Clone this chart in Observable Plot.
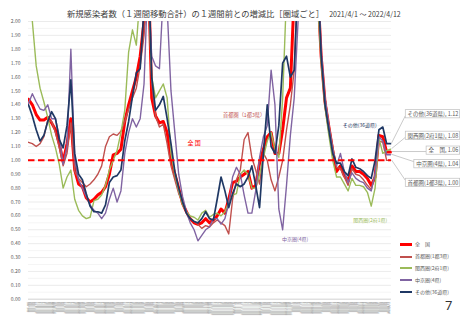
<!DOCTYPE html>
<html><head><meta charset="utf-8">
<script src="https://cdn.jsdelivr.net/npm/d3@7"></script>
<script src="https://cdn.jsdelivr.net/npm/@observablehq/plot@0.6"></script>
<style>
body{margin:0;background:#fff;font-family:"Noto Sans CJK JP","Noto Sans",sans-serif;}
#wrap{position:relative;width:462px;height:320px;overflow:hidden;background:#fff;}
#title{position:absolute;left:67px;top:8px;font-size:8.3px;line-height:11px;color:#404040;white-space:nowrap;}
#title span{font-size:7px;margin-left:5px;}
#chart{position:absolute;left:0;top:16px;}
#legend{position:absolute;left:400px;top:238px;font-size:5px;color:#595959;}
#legend div{height:11.9px;line-height:11.9px;white-space:nowrap;}
#legend i{display:inline-block;width:12px;vertical-align:middle;margin-right:3px;}
#page{position:absolute;left:445px;top:296px;font-size:13px;color:#333;font-family:"Noto Sans",sans-serif;}
</style></head>
<body><div id="wrap">
<div id="title">新規感染者数（１週間移動合計）の１週間前との増減比［圏域ごと］<span>2021/4/1 ～ 2022/4/12</span></div>
<div id="chart"></div>
<div id="legend"></div>
<div id="page">7</div>
</div>
<script>
const startDate = new Date(Date.UTC(2021, 3, 1));
const lastDay = 376;
const days = [0,4,8,12,16,20,24,28,32,36,40,44,48,52,56,60,64,68,72,76,80,84,88,92,96,100,104,108,112,116,120,124,128,132,136,140,144,148,152,156,160,164,168,172,176,180,184,188,192,196,200,204,208,212,216,220,224,228,232,236,240,244,248,252,256,260,264,268,272,276,280,284,288,292,296,300,304,308,312,316,320,324,328,332,336,340,344,348,352,356,360,364,368,372,376];

const zenkoku = [1.44,1.40,1.33,1.29,1.29,1.31,1.27,1.22,1.12,0.99,
 1.12,1.30,0.93,0.83,0.81,0.73,0.70,0.72,0.75,0.77,
 0.81,0.90,1.04,1.05,1.08,1.28,1.40,1.50,1.60,1.75,
 2.00,2.50,1.45,1.32,1.27,1.28,1.20,1.01,0.90,0.80,
 0.69,0.63,0.58,0.55,0.54,0.55,0.58,0.55,0.57,0.60,
 0.65,0.62,0.72,0.84,0.85,0.88,0.90,0.92,0.80,0.82,
 0.98,1.08,1.17,1.20,1.05,1.05,1.22,1.45,1.52,2.20,
 3.50,5.00,6.00,5.00,3.50,2.30,1.75,1.42,1.24,1.07,
 0.92,0.96,0.89,0.85,0.96,0.92,0.92,0.90,0.87,0.82,
 0.88,1.18,1.17,1.06,1.06];
const shutoken = [1.13,1.12,1.10,1.12,1.17,1.29,1.28,1.20,1.09,0.96,
 1.05,1.27,0.92,0.87,0.84,0.81,0.83,0.86,0.90,0.96,
 1.10,1.17,1.19,1.18,1.21,1.28,1.37,1.45,1.52,1.68,
 1.90,2.30,1.55,1.32,1.24,1.26,1.12,0.96,0.86,0.76,
 0.70,0.63,0.58,0.56,0.54,0.51,0.53,0.52,0.55,0.57,
 0.55,0.53,0.47,0.72,0.86,0.93,1.15,1.20,1.02,0.93,
 0.83,1.05,1.00,0.86,0.78,0.88,1.00,1.22,1.40,1.65,
 2.40,3.50,4.50,4.00,3.00,2.20,1.75,1.45,1.26,1.10,
 0.95,0.94,0.88,0.82,0.94,0.90,0.89,0.86,0.82,0.79,
 0.90,1.14,1.13,1.00,1.00];
const kansai = [2.30,2.00,1.68,1.52,1.42,1.31,1.18,1.09,0.97,0.80,
 0.88,0.93,0.72,0.64,0.60,0.58,0.59,0.71,0.72,0.75,
 0.82,0.93,1.00,1.07,1.20,1.36,1.78,1.94,1.83,2.20,
 2.60,2.30,1.60,1.45,1.50,1.55,1.45,1.05,0.90,0.78,
 0.68,0.63,0.60,0.59,0.57,0.62,0.64,0.59,0.61,0.62,
 0.60,0.63,0.70,0.75,0.76,0.90,0.93,0.90,0.80,0.80,
 0.90,1.02,1.14,1.20,1.08,1.02,1.45,2.20,3.00,4.50,
 5.50,5.00,4.00,3.00,2.60,2.20,1.70,1.38,1.18,1.00,
 0.88,0.88,0.83,0.78,0.87,0.82,0.82,0.81,0.77,0.67,
 0.80,1.16,1.05,1.07,1.08];
const chukyo = [1.41,1.48,1.42,1.37,1.36,1.40,1.30,1.30,1.17,0.97,
 1.10,1.80,1.00,0.86,0.80,0.74,0.68,0.64,0.62,0.58,
 0.62,0.72,0.80,0.70,0.78,1.05,1.20,1.30,1.24,1.30,
 1.55,2.30,1.75,1.68,1.66,2.20,2.10,1.50,1.20,0.90,
 0.74,0.63,0.55,0.50,0.42,0.46,0.50,0.52,0.58,0.58,
 0.54,0.58,0.69,0.88,0.95,0.90,0.75,0.62,0.62,0.78,
 1.02,1.17,1.25,1.65,1.40,0.65,0.50,0.82,1.18,1.45,
 2.00,3.50,5.00,5.00,4.00,2.50,1.80,1.45,1.25,1.08,
 0.96,1.05,0.92,0.84,0.91,0.87,0.85,0.84,0.80,0.78,
 0.90,1.17,1.14,1.04,1.04];
const sonota = [1.40,1.32,1.22,1.14,1.18,1.28,1.35,1.30,1.15,1.09,
 1.25,1.58,1.05,0.90,0.86,0.76,0.67,0.63,0.63,0.62,
 0.68,0.84,0.88,0.89,0.93,1.14,1.28,1.46,1.63,1.66,
 2.10,2.50,1.60,1.36,1.40,1.46,1.30,1.12,0.92,0.80,
 0.70,0.62,0.58,0.56,0.55,0.58,0.63,0.58,0.57,0.72,
 0.88,0.78,0.66,0.76,0.83,0.81,0.83,0.88,0.96,0.82,
 0.66,1.05,1.40,1.10,1.05,1.25,1.70,1.75,1.60,1.65,
 2.30,3.50,4.50,4.50,3.50,2.40,1.75,1.40,1.22,1.05,
 0.98,0.98,0.92,0.89,1.01,0.95,0.94,0.92,0.89,0.87,
 1.00,1.22,1.24,1.12,1.12];

const seriesNames = ["全　国", "首都圏(1都3県)", "関西圏(2府1県)", "中京圏(4県)", "その他(36道県)"];
const seriesColors = ["#FF0000", "#C0504D", "#9BBB59", "#8064A2", "#1F3864"];
const seriesWidths = [3, 1.4, 1.4, 1.4, 1.7];
const seriesValues = [zenkoku, shutoken, kansai, chukyo, sonota];

const yTicks = [0.00,0.10,0.20,0.30,0.40,0.50,0.60,0.70,0.80,0.90,1.00,1.10,1.20,1.30,1.40,1.50,1.60,1.70,1.80,1.90,2.00];
const yMinorGrid = [0.05,0.15,0.25,0.35,0.45,0.55,0.65,0.75,0.85,0.95,1.05,1.15,1.25,1.35,1.45,1.55,1.65,1.75,1.85,1.95];

// callout labels (series index, text, label position value)
const calloutSeries = [4, 2, 0, 3, 1];
const calloutText = ["その他(36道県), 1.12", "関西圏(2府1県), 1.08", "全　国, 1.06", "中京圏(4県), 1.04", "首都圏(1都3県), 1.00"];
const calloutY = [1.332, 1.177, 1.070, 0.972, 0.838];
const calloutRightDay = 446.5;
const calloutFont = 5.5;

// in-plot series annotations
const annoText = ["全 国", "首都圏（1都3県）", "中京圏(4県)", "関西圏(2府1県)", "その他(36道県)"];
const annoDay = [172, 224, 277, 355, 344];
const annoY = [1.123, 1.324, 0.43, 0.564, 1.249];
const annoColor = ["#FF0000", "#C0504D", "#8064A2", "#9BBB59", "#1F3864"];
const annoWeight = ["bold", "normal", "normal", "normal", "bold"];
const annoSize = [6, 5.2, 5, 5, 5];

const rows = seriesValues.flatMap((vals, s) => vals.map((v, j) => ({day: days[j], v, s})));
const allDays = d3.range(lastDay + 1);
const fmt = d3.utcFormat("%Y/%-m/%-d");
const annos = annoText.map((t, i) => ({t, day: annoDay[i], v: annoY[i], c: annoColor[i], w: annoWeight[i], fs: annoSize[i]}));
const callouts = calloutText.map((t, i) => ({t, v: calloutY[i], s: calloutSeries[i]}));

const lineMarks = seriesValues.map((_, s) => Plot.line(rows.filter(r => r.s === s), {
  x: "day", y: "v", stroke: seriesColors[s], strokeWidth: seriesWidths[s], clip: true, strokeLinejoin: "round"
}));

const xScale = {domain: [0, 450.8], range: [28, 462]};
const yScale = {domain: [0, 2], range: [282.7, 5]};
const X = v => xScale.range[0] + (v - xScale.domain[0]) / (xScale.domain[1] - xScale.domain[0]) * (xScale.range[1] - xScale.range[0]);
const Y = v => yScale.range[0] + (v - yScale.domain[0]) / (yScale.domain[1] - yScale.domain[0]) * (yScale.range[1] - yScale.range[0]);

// measure callout text widths for boxes
const ctx = document.createElement("canvas").getContext("2d");
ctx.font = calloutFont + "px 'Noto Sans CJK JP'";
const boxes = callouts.map(c => {
  const w = ctx.measureText(c.t).width;
  const tx = X(calloutRightDay), ty = Y(c.v);
  const pad = 1.8;
  const bx = tx - w - pad, by = ty - 4.1, bw = w + pad * 2, bh = 8.2;
  const vals = seriesValues[c.s];
  const ex = X(days[days.length - 1]) + 1.5, ey = Y(vals[vals.length - 1]);
  const ly = Math.max(by + 2, Math.min(by + bh - 2, ey));
  return {bx, by, bw, bh, ex, ey, ly};
});

const chart = Plot.plot({
  width: 462, height: 304,
  marginLeft: 28, marginRight: 0, marginTop: 5, marginBottom: 21.3,
  style: {background: "transparent", fontFamily: "'Noto Sans CJK JP', sans-serif", overflow: "visible"},
  x: {domain: xScale.domain, axis: null},
  y: {domain: yScale.domain, axis: null},
  marks: [
    Plot.ruleY(yMinorGrid, {x1: 0, x2: lastDay + 1, stroke: "#efefef", strokeWidth: 0.6}),
    Plot.ruleY(yTicks, {x1: 0, x2: lastDay + 1, stroke: "#dedede", strokeWidth: 0.6}),
    Plot.ruleY([0], {x1: 0, x2: lastDay + 1, stroke: "#cfcfcf", strokeWidth: 0.7}),
    Plot.axisY({ticks: yTicks, tickSize: 0, tickPadding: 8, tickFormat: d => d.toFixed(2), fontSize: 5, fill: "#595959", label: null}),
    Plot.text(allDays, {x: d => d, frameAnchor: "bottom", text: d => fmt(d3.utcDay.offset(startDate, d)), rotate: -90, textAnchor: "end", dy: 2.5, fontSize: 2.6, fill: "#a0a0a0"}),
    ...lineMarks,
    Plot.ruleY([1], {x1: 0, x2: lastDay + 1, stroke: "#FF0000", strokeWidth: 2, strokeDasharray: "6.5,3.5"}),
    Plot.text(annos, {x: "day", y: "v", text: "t", fill: "c", fontWeight: d => d.w, fontSize: d => d.fs}),
    () => {
      const g = d3.create("svg:g");
      boxes.forEach(b => {
        g.append("line").attr("x1", b.ex).attr("y1", b.ey).attr("x2", b.bx).attr("y2", b.ly)
          .attr("stroke", "#a6a6a6").attr("stroke-width", 0.6);
      });
      boxes.forEach(b => {
        g.append("rect").attr("x", b.bx).attr("y", b.by).attr("width", b.bw).attr("height", b.bh)
          .attr("fill", "#fff").attr("stroke", "#bfbfbf").attr("stroke-width", 0.7);
      });
      return g.node();
    },
    Plot.text(callouts, {x: () => calloutRightDay, y: "v", text: "t", textAnchor: "end", fontSize: calloutFont, fill: "#595959"})
  ]
});
document.getElementById("chart").appendChild(chart);

// legend
const legend = d3.select("#legend");
seriesNames.forEach((n, i) => {
  const row = legend.append("div");
  row.append("i").style("height", (i === 0 ? 3 : 2) + "px").style("background", seriesColors[i]);
  row.append("span").text(n);
});
</script>
</body></html>
